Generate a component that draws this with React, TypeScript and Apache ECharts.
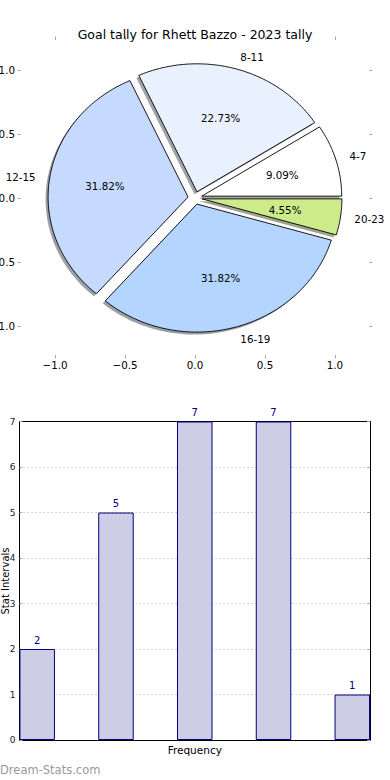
import React, { useEffect, useRef } from "react";
import * as echarts from "echarts";

const categories = ["4-7", "8-11", "12-15", "16-19", "20-23"];
const values = [2, 5, 7, 7, 1];
const sliceColors = ["#ffffff", "#e9f1ff", "#c6d9ff", "#b4d5ff", "#cdeb8b"];
const pieTicks = [-1, -0.5, 0, 0.5, 1];
const barTicks = [0, 1, 2, 3, 4, 5, 6, 7];
const titleText = "Goal tally for Rhett Bazzo - 2023 tally";

const EXPLODE = 0.05;
const FONT = "DejaVu Sans";

const total = values.reduce((a, b) => a + b, 0);
const cum: number[] = [0];
values.forEach((v, i) => cum.push(cum[i] + v));

function hexToRgb(h: string) {
  const n = parseInt(h.slice(1), 16);
  return [(n >> 16) & 255, (n >> 8) & 255, n & 255];
}

function wedge(api: any, i: number) {
  const t1 = (cum[i] / total) * Math.PI * 2;
  const t2 = (cum[i + 1] / total) * Math.PI * 2;
  const mid = (t1 + t2) / 2;
  const cx = EXPLODE * Math.cos(mid);
  const cy = EXPLODE * Math.sin(mid);
  const pts: number[][] = [api.coord([cx, cy])];
  const n = Math.max(2, Math.ceil((t2 - t1) / (Math.PI / 180)));
  for (let k = 0; k <= n; k++) {
    const t = t1 + ((t2 - t1) * k) / n;
    pts.push(api.coord([cx + Math.cos(t), cy + Math.sin(t)]));
  }
  return { pts, mid, cx, cy };
}

const fmtTick = (v: number) => v.toFixed(1).replace("-", "\u2212");

export default function App() {
  const ref = useRef<HTMLDivElement>(null);
  useEffect(() => {
    if (!ref.current) return;
    const chart = echarts.init(ref.current, null, { renderer: "svg" });
    const pieData = values.map((v, i) => ({ value: [0, 0, v, i] }));
    const tickGray = "#a8a8a8";
    const hiddenLine = { show: true, onZero: false, lineStyle: { color: "rgba(0,0,0,0)", width: 0 } };
    const pieXBase = {
      type: "value",
      gridIndex: 0,
      min: -1.243,
      max: 1.243,
      axisLine: hiddenLine,
      splitLine: { show: false },
      axisTick: { show: true, inside: false, length: 3.5, customValues: pieTicks, lineStyle: { color: tickGray, width: 1 } },
    };
    const pieYBase = {
      type: "value",
      gridIndex: 0,
      min: -1.227,
      max: 1.234,
      axisLine: hiddenLine,
      splitLine: { show: false },
      axisTick: { show: true, inside: false, length: 3.5, customValues: pieTicks, lineStyle: { color: tickGray, width: 1 } },
    };
    const tickLabel = { fontFamily: FONT, fontSize: 10.3, color: "#000" };

    const option: any = {
      animation: false,
      backgroundColor: "#fff",
      title: {
        text: titleText,
        left: "center",
        top: 23,
        textStyle: { fontFamily: FONT, fontSize: 12.5, fontWeight: "normal", color: "#000" },
      },
      grid: [
        { left: 21, top: 40, width: 348, height: 315, containLabel: false, outerBoundsMode: "none" },
        { left: 19.5, top: 421.5, width: 350.5, height: 318.5, containLabel: false, outerBoundsMode: "none" },
      ],
      xAxis: [
        {
          ...pieXBase,
          position: "bottom",
          axisLabel: { show: true, customValues: pieTicks, formatter: fmtTick, margin: 5, ...tickLabel },
        },
        { ...pieXBase, position: "top", axisLabel: { show: false } },
        {
          type: "value",
          gridIndex: 1,
          min: -0.2247,
          max: 4.2247,
          position: "bottom",
          axisLine: { show: true, onZero: false, lineStyle: { color: "#000", width: 1 } },
          axisTick: { show: false },
          axisLabel: { show: false },
          splitLine: { show: false },
          name: "Frequency",
          nameLocation: "middle",
          nameGap: 4,
          nameTextStyle: { fontFamily: FONT, fontSize: 10.5, color: "#000", verticalAlign: "top" },
        },
        {
          type: "value",
          gridIndex: 1,
          min: -0.2247,
          max: 4.2247,
          position: "top",
          axisLine: { show: true, onZero: false, lineStyle: { color: "#000", width: 1 } },
          axisTick: { show: false },
          axisLabel: { show: false },
          splitLine: { show: false },
        },
      ],
      yAxis: [
        {
          ...pieYBase,
          position: "left",
          axisLabel: { show: true, customValues: pieTicks, formatter: fmtTick, margin: 6, ...tickLabel },
        },
        { ...pieYBase, position: "right", axisLabel: { show: false } },
        {
          type: "value",
          gridIndex: 1,
          min: barTicks[0],
          max: barTicks[barTicks.length - 1],
          interval: 1,
          position: "left",
          axisLine: { show: true, onZero: false, lineStyle: { color: "#000", width: 1 } },
          axisTick: { show: true, inside: true, length: 3, lineStyle: { color: "#aaa" } },
          axisLabel: { show: true, margin: 4, fontFamily: FONT, fontSize: 9, color: "#222" },
          splitLine: { show: true, lineStyle: { color: "#c8c8c8", type: [1.5, 2.5], width: 1 } },
        },
        {
          type: "value",
          gridIndex: 1,
          min: barTicks[0],
          max: barTicks[barTicks.length - 1],
          interval: 1,
          position: "right",
          axisLine: { show: true, onZero: false, lineStyle: { color: "#000", width: 1 } },
          axisTick: { show: true, inside: true, length: 3, lineStyle: { color: "#aaa" } },
          axisLabel: { show: false },
          splitLine: { show: false },
        },
      ],
      graphic: [
        {
          type: "text",
          x: 5,
          y: 581,
          rotation: Math.PI / 2,
          style: {
            text: "Stat Intervals",
            align: "center",
            verticalAlign: "middle",
            fontFamily: FONT,
            fontSize: 10,
            fill: "#000",
          },
        },
        {
          type: "text",
          left: 0,
          top: 764,
          style: { text: "Dream-Stats.com", fontFamily: FONT, fontSize: 11.5, fill: "#9a9a9a" },
        },
      ],
      series: [
        {
          type: "custom",
          name: "shadow",
          coordinateSystem: "cartesian2d",
          xAxisIndex: 0,
          yAxisIndex: 0,
          z: 1,
          data: pieData,
          renderItem: (params: any, api: any) => {
            const i = params.dataIndex;
            const { pts } = wedge(api, i);
            const [r, g, b] = hexToRgb(sliceColors[i]);
            return {
              type: "polygon",
              x: -2.5,
              y: 2.5,
              shape: { points: pts },
              style: { fill: `rgba(${Math.round(r * 0.3)},${Math.round(g * 0.3)},${Math.round(b * 0.3)},0.5)`, stroke: "none" },
            };
          },
        },
        {
          type: "custom",
          name: "pie",
          coordinateSystem: "cartesian2d",
          xAxisIndex: 0,
          yAxisIndex: 0,
          z: 2,
          data: pieData,
          renderItem: (params: any, api: any) => {
            const i = params.dataIndex;
            const { pts, mid, cx, cy } = wedge(api, i);
            const lx = cx + 1.1 * Math.cos(mid);
            const ly = cy + 1.1 * Math.sin(mid);
            const px = cx + 0.6 * Math.cos(mid);
            const py = cy + 0.6 * Math.sin(mid);
            const lp = api.coord([lx, ly]);
            const pp = api.coord([px, py]);
            return {
              type: "group",
              children: [
                {
                  type: "polygon",
                  shape: { points: pts },
                  style: { fill: sliceColors[i], stroke: "#000", lineWidth: 0.9 },
                },
                {
                  type: "text",
                  x: lp[0],
                  y: lp[1],
                  style: {
                    text: categories[i],
                    align: lx > 0 ? "left" : "right",
                    verticalAlign: "middle",
                    fontFamily: FONT,
                    fontSize: 10.3,
                    fill: "#000",
                  },
                },
                {
                  type: "text",
                  x: pp[0],
                  y: pp[1],
                  style: {
                    text: ((values[i] / total) * 100).toFixed(2) + "%",
                    align: "center",
                    verticalAlign: "middle",
                    fontFamily: FONT,
                    fontSize: 10.3,
                    fill: "#000",
                  },
                },
              ],
            };
          },
        },
        {
          type: "bar",
          xAxisIndex: 2,
          yAxisIndex: 2,
          barWidth: 35.5,
          data: values.map((v, i) => [i, v]),
          itemStyle: { color: "#cdcde6", borderColor: "#000080", borderWidth: 1 },
          label: {
            show: true,
            position: "top",
            distance: 4,
            formatter: (p: any) => String(p.value[1]),
            fontFamily: FONT,
            fontSize: 10,
            color: "#000080",
          },
        },
      ],
    };
    chart.setOption(option);
    return () => chart.dispose();
  }, []);
  return (
    <div
      ref={ref}
      style={{ position: "fixed", left: 0, top: 0, width: 390, height: 780, background: "#fff" }}
    />
  );
}
